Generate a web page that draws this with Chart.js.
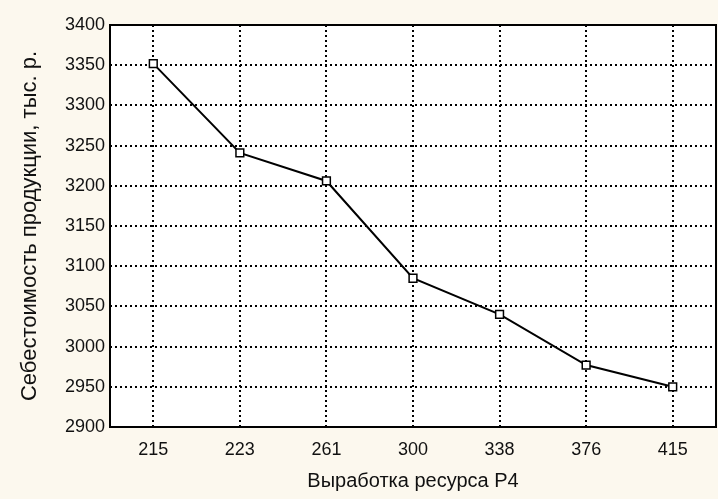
<!DOCTYPE html>
<html>
<head>
<meta charset="utf-8">
<script src="https://cdn.jsdelivr.net/npm/chart.js@4"></script>
<style>
  html, body { margin: 0; padding: 0; background: #fcf8ee; }
  #wrap { width: 718px; height: 499px; }
</style>
</head>
<body>
<div id="wrap"><canvas id="lineChart" width="718" height="499"></canvas></div>
<script>
const resourceLabels = ['215', '223', '261', '300', '338', '376', '415'];
const costValues = [3352, 3241, 3206, 3085, 3040, 2977, 2950];
const yMin = 2900;
const yMax = 3400;
const yStep = 50;

// white plot area + black frame
const plotFrame = {
    id: 'plotFrame',
    beforeDraw(chart) {
        const { ctx, chartArea: a } = chart;
        ctx.save();
        ctx.fillStyle = '#ffffff';
        ctx.fillRect(a.left, a.top, a.right - a.left, a.bottom - a.top);
        ctx.restore();
    },
    afterDraw(chart) {
        const { ctx, chartArea: a } = chart;
        ctx.save();
        ctx.strokeStyle = '#000';
        ctx.lineWidth = 2;
        ctx.strokeRect(a.left, a.top, a.right - a.left, a.bottom - a.top);
        ctx.restore();
    }
};

const ctx = document.getElementById('lineChart').getContext('2d');
new Chart(ctx, {
    type: 'line',
    data: {
        labels: resourceLabels,
        datasets: [{
            data: costValues,
            borderColor: '#000',
            borderWidth: 2,
            pointStyle: 'rect',
            pointRadius: 5.5,
            pointBackgroundColor: '#fff',
            pointBorderColor: '#000',
            pointBorderWidth: 1.5,
            tension: 0
        }]
    },
    options: {
        responsive: false,
        animation: false,
        layout: { autoPadding: false, padding: { left: 0, right: 2, top: 25, bottom: 0 } },
        plugins: {
            legend: { display: false },
            tooltip: { enabled: false }
        },
        scales: {
            x: {
                offset: true,
                grid: { offset: false, color: '#000', lineWidth: 2, drawTicks: false },
                border: { display: false, dash: [2, 3] },
                ticks: { color: '#111', padding: 12, font: { family: 'Liberation Sans, Arial', size: 18 } },
                title: {
                    display: true,
                    text: 'Выработка ресурса Р4',
                    color: '#111',
                    padding: { top: 0, bottom: 6 },
                    font: { family: 'Liberation Sans, Arial', size: 20 }
                },
                afterFit(scale) {
                    scale.height = 72;
                    scale.paddingLeft = 0;
                    scale.paddingRight = 0;
                }
            },
            y: {
                min: yMin,
                max: yMax,
                grid: { color: '#000', lineWidth: 2, drawTicks: false },
                border: { display: false, dash: [2, 3] },
                ticks: {
                    stepSize: yStep,
                    color: '#111',
                    padding: 5,
                    font: { family: 'Liberation Sans, Arial', size: 18 },
                    callback: function (value) { return String(value); }
                },
                title: {
                    display: true,
                    text: 'Себестоимость продукции, тыс. р.',
                    color: '#111',
                    padding: { top: 17, bottom: 0 },
                    font: { family: 'Liberation Sans, Arial', size: 22 }
                },
                afterFit(scale) { scale.width = 110; }
            }
        }
    },
    plugins: [plotFrame]
});
</script>
</body>
</html>
